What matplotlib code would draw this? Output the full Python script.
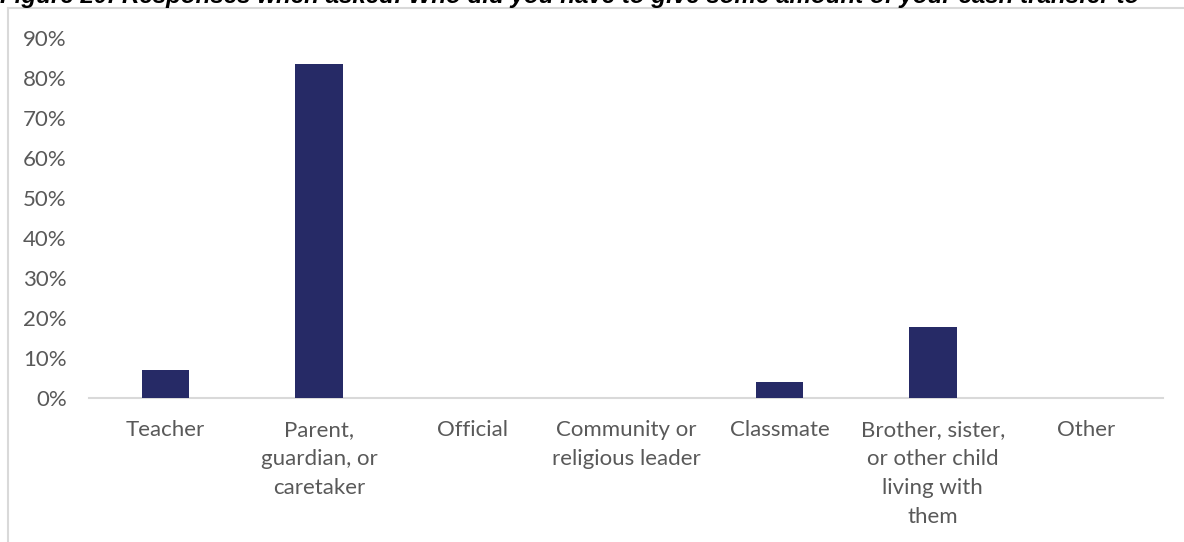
import numpy as np
import matplotlib.pyplot as plt
from matplotlib.lines import Line2D

# who respondents had to give part of their cash transfer to
categories = ['Teacher', 'Parent,\nguardian, or\ncaretaker', 'Official',
              'Community or\nreligious leader', 'Classmate',
              'Brother, sister,\nor other child\nliving with\nthem', 'Other']
shares = [0.07, 0.835, 0.0, 0.0, 0.041, 0.178, 0.0]

title = ('Figure 20: Responses when asked: Who did you have to give some '
         'amount of your cash transfer to')

plt.rcParams['font.family'] = ['Lato', 'DejaVu Sans']

fig = plt.figure(figsize=(11.84, 5.42), dpi=100)
ax = fig.add_axes([89 / 1184, 144 / 542, (1163 - 89) / 1184, 360 / 542])

x = np.arange(len(categories))
ax.bar(x, shares, width=0.31, color='#262A66', zorder=3)

ax.set_xlim(-0.5, len(categories) - 0.5)
ax.set_ylim(0, 0.9)
ax.set_yticks(np.arange(0, 0.91, 0.1))
ax.set_yticklabels(['%d%%' % round(v * 100) for v in np.arange(0, 0.91, 0.1)])
ax.set_xticks(x)
ax.set_xticklabels(categories, linespacing=1.55)

for s in ['top', 'right', 'left']:
    ax.spines[s].set_visible(False)
ax.spines['bottom'].set_color('#d9d9d9')
ax.spines['bottom'].set_linewidth(1.5)
ax.tick_params(axis='both', length=0, labelsize=16, labelcolor='#595959')
ax.tick_params(axis='y', pad=16)
ax.tick_params(axis='x', pad=16)

# chart frame (left and top edges)
fig.add_artist(Line2D([7.5 / 1184, 7.5 / 1184], [0, 1 - 8 / 542],
                      transform=fig.transFigure, color='#d9d9d9', lw=1.5))
fig.add_artist(Line2D([7.5 / 1184, 1], [1 - 8 / 542, 1 - 8 / 542],
                      transform=fig.transFigure, color='#d9d9d9', lw=1.5))

fig.text(0.0, 1 - 3 / 542, title, fontsize=17.4, fontweight='bold',
         fontstyle='italic', family=['Liberation Sans', 'DejaVu Sans'],
         va='baseline', ha='left', color='black')

fig.savefig('out.png', dpi=100)
